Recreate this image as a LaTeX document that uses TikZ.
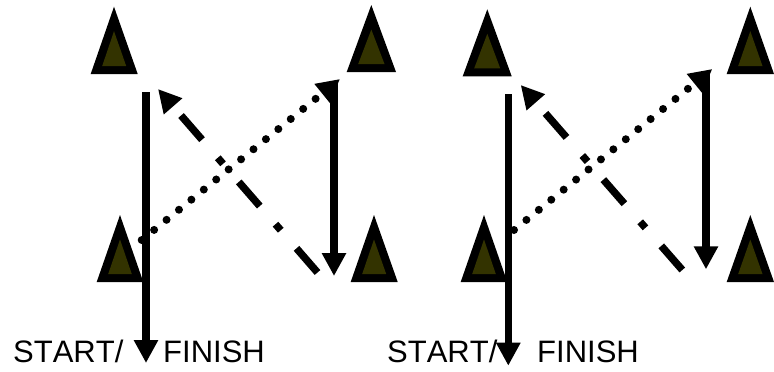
\documentclass[tikz,border=0pt]{standalone}
\usepackage{fontspec}
\setmainfont[Kerning=Off]{Liberation Sans}
\usetikzlibrary{arrows.meta}
\definecolor{cone}{HTML}{333300}
\tikzset{
  arrowtip/.style={-{Triangle[width=23pt,length=23pt]}},
  solidrun/.style={arrowtip,line width=7.6pt},
  dashrun/.style={arrowtip,line width=7.4pt,dash pattern=on 32pt off 24pt on 8pt off 24pt},
  dotrun/.style={arrowtip,line width=8pt,line cap=round,dash pattern=on 0pt off 16pt},
  label/.style={inner sep=0pt,anchor=base west,font=\fontsize{31}{31}\selectfont}
}
% centre x, apex y, base y, left x, right x
\newcommand{\conemark}[5]{%
  \fill[black] (#1,#2) -- (#5,#3) -- (#4,#3) -- cycle;
  \fill[cone] (#1,#2+24.5) -- (#5-11.5,#3-8) -- (#4+11.5,#3-8) -- cycle;
}
\begin{document}
\begin{tikzpicture}[x=1pt,y=-1pt]
\useasboundingbox (0,0) rectangle (774,372);
% left drill cones
\conemark{114}{6.7}{74}{90.7}{137.7}
\conemark{371.3}{5}{72}{346.7}{396}
\conemark{120}{215}{282}{96.7}{143.3}
\conemark{374}{215}{282}{350.7}{397.7}
% right drill cones
\conemark{487.3}{9.3}{76.3}{462.7}{511.7}
\conemark{750.3}{6.7}{74}{726.7}{774}
\conemark{484}{215}{282}{460.7}{507.3}
\conemark{750.3}{215}{282}{726.7}{774}
% labels
\node[label] (s1) at (13,362) {START/};
\node[label] (f1) at (163,362) {FINISH};
\node[label] (s2) at (387,362) {START/};
\node[label] (f2) at (537,362) {FINISH};
% left connector ends
\coordinate (a1) at (146,92);   \coordinate (a2) at (146,363);
\coordinate (b1) at (141.7,240);\coordinate (b2) at (340,79);
\coordinate (c1) at (334,82);   \coordinate (c2) at (334,276);
\coordinate (d1) at (317.5,272.5);\coordinate (d2) at (158,89);
% right connector ends
\coordinate (e1) at (508.3,94); \coordinate (e2) at (508.3,365.7);
\coordinate (g1) at (514,230);  \coordinate (g2) at (712.3,69);
\coordinate (h1) at (706,72);   \coordinate (h2) at (706,269.3);
\coordinate (k1) at (682.3,270);\coordinate (k2) at (520.7,85);
% connectors
\draw[solidrun] (a1) -- (a2);
\draw[solidrun] (c1) -- (c2);
\draw[dashrun] (d1) -- (d2);
\draw[dotrun] (b1) -- (b2);
\draw[solidrun] (e1) -- (e2);
\draw[solidrun] (h1) -- (h2);
\draw[dashrun] (k1) -- (k2);
\draw[dotrun] (g1) -- (g2);
\end{tikzpicture}
\end{document}
